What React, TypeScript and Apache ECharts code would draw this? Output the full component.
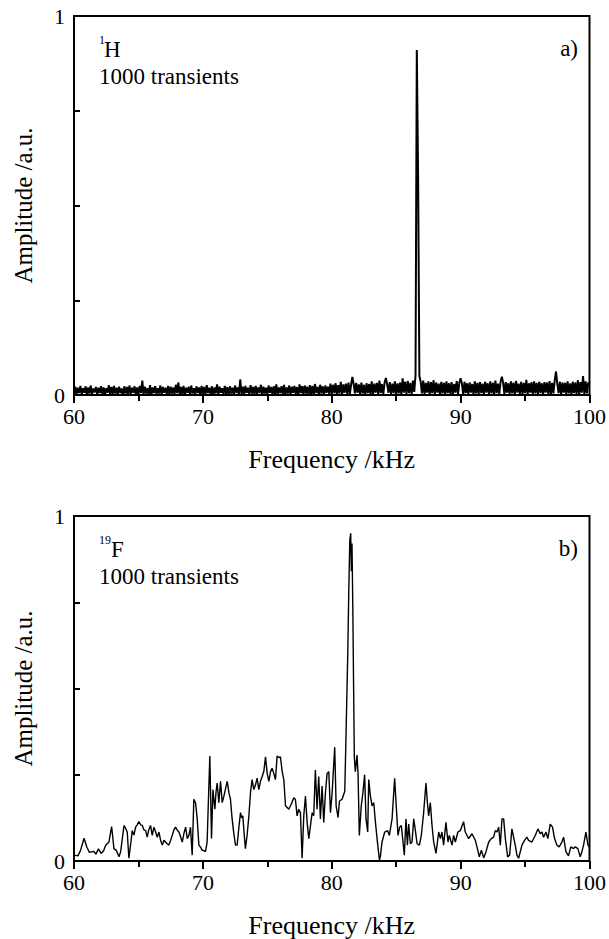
import React, { useEffect, useRef } from "react";
import * as echarts from "echarts";

// ---------- data ----------
const X_MIN = 60;
const X_MAX = 100;
const X_INTERVAL = 10;
const yLabelValues = [0, 1];

// 1H spectrum: amplitudes (in 1/1000 a.u.) sampled every 0.1 kHz from 60.0 to 100.0 kHz
const hStart = 60;
const hStep = 0.1;
const hAmpMilli = [
  3, 22, 1, 19, 5, 24, 2, 18, 6, 23, 0, 20, 4, 25, 2, 17, 7, 21, 1, 19,
  5, 23, 2, 20, 0, 18, 6, 26, 3, 21, 1, 24, 4, 19, 2, 22, 5, 17, 0, 23,
  4, 21, 1, 25, 3, 19, 6, 23, 0, 20, 2, 24, 5, 38, 1, 22, 4, 18, 2, 26,
  0, 20, 5, 23, 2, 18, 4, 25, 1, 21, 6, 19, 3, 24, 0, 22, 4, 20, 2, 27,
  5, 33, 1, 21, 3, 24, 0, 19, 6, 22, 2, 25, 4, 18, 1, 23, 5, 20, 0, 24,
  3, 21, 1, 26, 5, 19, 2, 23, 0, 20, 4, 28, 1, 22, 6, 18, 2, 24, 3, 21,
  0, 23, 4, 19, 2, 25, 5, 20, 1, 41, 3, 22, 0, 24, 6, 19, 2, 26, 4, 21,
  1, 24, 3, 20, 5, 27, 0, 22, 4, 19, 2, 25, 6, 21, 1, 23, 3, 28, 0, 20,
  5, 23, 2, 27, 0, 20, 4, 25, 1, 22, 6, 24, 3, 21, 0, 28, 5, 23, 2, 25,
  4, 22, 1, 26, 3, 24, 0, 29, 5, 21, 2, 27, 4, 23, 1, 25, 6, 22, 3, 30,
  2, 27, 5, 31, 1, 26, 4, 35, 0, 28, 6, 30, 3, 33, 1, 27, 48, 29, 4, 32,
  6, 28, 2, 33, 4, 27, 1, 31, 5, 29, 3, 36, 0, 30, 6, 32, 2, 38, 5, 29,
  3, 32, 45, 28, 6, 34, 2, 30, 5, 36, 1, 31, 4, 33, 0, 44, 6, 35, 3, 37,
  5, 32, 2, 38, 8, 52, 910, 580, 50, 35, 4, 38, 2, 32, 6, 36, 1, 34, 5, 39,
  2, 33, 6, 30, 0, 35, 4, 32, 1, 36, 5, 31, 3, 34, 0, 29, 6, 37, 2, 32,
  44, 30, 1, 35, 5, 31, 2, 33, 6, 29, 0, 36, 4, 32, 2, 34, 5, 30, 1, 35,
  6, 31, 2, 36, 4, 33, 0, 38, 5, 30, 3, 35, 48, 32, 1, 34, 6, 31, 2, 36,
  4, 33, 0, 37, 6, 30, 3, 35, 1, 32, 5, 40, 2, 31, 6, 34, 0, 36, 4, 32,
  2, 35, 5, 31, 1, 34, 6, 33, 3, 37, 0, 32, 4, 38, 62, 30, 5, 35, 1, 33,
  6, 32, 2, 36, 4, 31, 0, 35, 5, 33, 3, 39, 1, 34, 6, 50, 2, 36, 4, 33,
  28,
];

// 19F spectrum: frequency (kHz) and amplitude (a.u.)
const fFreq = [
  60.0, 60.3, 60.5, 60.78, 61.0, 61.2, 61.5, 61.7, 61.9, 62.1, 62.3, 62.45, 62.71, 62.92, 63.1, 63.3, 63.49, 63.62, 63.88, 64.0,
  64.13, 64.26, 64.4, 64.52, 64.65, 64.78, 64.9, 65.04, 65.17, 65.3, 65.43, 65.56, 65.68, 65.8, 65.94, 66.07, 66.2, 66.33, 66.46, 66.59,
  66.72, 66.85, 66.98, 67.1, 67.23, 67.36, 67.5, 67.62, 67.75, 67.88, 68.0, 68.14, 68.27, 68.4, 68.53, 68.66, 68.79, 68.92, 69.04, 69.17,
  69.3, 69.43, 69.56, 69.69, 69.82, 69.95, 70.1, 70.2, 70.33, 70.45, 70.54, 70.67, 70.78, 70.93, 71.02, 71.11, 71.24, 71.37, 71.5, 71.63,
  71.76, 71.89, 72.02, 72.14, 72.27, 72.4, 72.53, 72.66, 72.8, 72.92, 73.01, 73.1, 73.2, 73.3, 73.43, 73.57, 73.7, 73.82, 73.95, 74.08,
  74.21, 74.34, 74.47, 74.6, 74.73, 74.86, 74.99, 75.12, 75.25, 75.37, 75.5, 75.63, 75.76, 75.9, 76.02, 76.15, 76.28, 76.41, 76.54, 76.67,
  76.8, 76.92, 77.05, 77.18, 77.31, 77.44, 77.57, 77.7, 77.83, 77.96, 78.09, 78.22, 78.35, 78.48, 78.6, 78.73, 78.86, 78.99, 79.12, 79.25,
  79.38, 79.51, 79.64, 79.77, 79.9, 80.03, 80.23, 80.34, 80.49, 80.6, 80.8, 81.01, 81.11, 81.24, 81.32, 81.4, 81.47, 81.52, 81.57, 81.63,
  81.7, 81.75, 81.83, 81.96, 82.04, 82.14, 82.29, 82.42, 82.55, 82.66, 82.79, 82.87, 83.0, 83.13, 83.26, 83.39, 83.57, 83.7, 83.77, 83.9,
  84.11, 84.34, 84.47, 84.68, 84.88, 84.99, 85.14, 85.27, 85.4, 85.53, 85.63, 85.76, 85.87, 85.97, 86.1, 86.23, 86.36, 86.49, 86.62, 86.8,
  86.95, 87.13, 87.31, 87.42, 87.52, 87.65, 87.78, 87.91, 88.09, 88.3, 88.43, 88.55, 88.68, 88.86, 89.02, 89.12, 89.33, 89.46, 89.59, 89.79,
  89.97, 90.23, 90.36, 90.62, 90.88, 91.14, 91.27, 91.45, 91.61, 91.79, 91.97, 92.18, 92.38, 92.56, 92.69, 92.82, 92.95, 93.08, 93.21, 93.34,
  93.47, 93.65, 93.8, 93.98, 94.11, 94.24, 94.37, 94.5, 94.76, 94.96, 95.14, 95.27, 95.53, 95.79, 96.0, 96.18, 96.31, 96.44, 96.62, 96.77,
  96.95, 97.13, 97.29, 97.47, 97.65, 97.86, 97.99, 98.17, 98.37, 98.55, 98.76, 98.89, 99.1, 99.28, 99.41, 99.54, 99.72, 99.8, 99.88, 100.0,
];
const fAmp = [
  0.017, 0.015, 0.03, 0.066, 0.04, 0.025, 0.028, 0.02, 0.035, 0.022, 0.03, 0.045, 0.055, 0.1, 0.036, 0.03, 0.012, 0.027, 0.103, 0.095,
  0.084, 0.008, 0.05, 0.088, 0.075, 0.098, 0.105, 0.114, 0.105, 0.103, 0.09, 0.088, 0.069, 0.09, 0.103, 0.074, 0.098, 0.085, 0.069, 0.084,
  0.06, 0.046, 0.06, 0.055, 0.05, 0.046, 0.06, 0.074, 0.09, 0.098, 0.09, 0.084, 0.07, 0.055, 0.08, 0.098, 0.065, 0.075, 0.098, 0.017,
  0.179, 0.169, 0.122, 0.046, 0.04, 0.031, 0.03, 0.027, 0.055, 0.2, 0.304, 0.065, 0.207, 0.15, 0.2, 0.226, 0.169, 0.231, 0.169, 0.188,
  0.21, 0.231, 0.198, 0.179, 0.122, 0.08, 0.046, 0.046, 0.1, 0.14, 0.125, 0.131, 0.08, 0.036, 0.074, 0.131, 0.2, 0.236, 0.207, 0.22,
  0.24, 0.207, 0.231, 0.245, 0.26, 0.302, 0.254, 0.231, 0.259, 0.269, 0.254, 0.236, 0.304, 0.3, 0.302, 0.26, 0.236, 0.16, 0.155, 0.15,
  0.16, 0.17, 0.183, 0.179, 0.131, 0.15, 0.14, 0.008, 0.131, 0.188, 0.112, 0.065, 0.103, 0.14, 0.131, 0.264, 0.15, 0.245, 0.122, 0.217,
  0.112, 0.198, 0.254, 0.259, 0.14, 0.198, 0.33, 0.16, 0.126, 0.174, 0.179, 0.202, 0.368, 0.596, 0.78, 0.93, 0.95, 0.84, 0.92, 0.75,
  0.49, 0.302, 0.259, 0.307, 0.254, 0.074, 0.16, 0.198, 0.25, 0.122, 0.084, 0.236, 0.188, 0.16, 0.169, 0.112, 0.046, 0.003, 0.012, 0.055,
  0.084, 0.088, 0.074, 0.122, 0.24, 0.169, 0.074, 0.098, 0.103, 0.055, 0.017, 0.122, 0.046, 0.107, 0.05, 0.055, 0.122, 0.088, 0.05, 0.046,
  0.074, 0.14, 0.226, 0.169, 0.131, 0.169, 0.103, 0.055, 0.022, 0.084, 0.065, 0.084, 0.046, 0.112, 0.055, 0.074, 0.046, 0.074, 0.055, 0.084,
  0.088, 0.114, 0.084, 0.065, 0.079, 0.06, 0.041, 0.012, 0.031, 0.009, 0.027, 0.055, 0.065, 0.069, 0.088, 0.084, 0.098, 0.046, 0.122, 0.122,
  0.065, 0.012, 0.017, 0.093, 0.069, 0.046, 0.017, 0.008, 0.046, 0.06, 0.069, 0.06, 0.055, 0.074, 0.093, 0.079, 0.084, 0.069, 0.084, 0.065,
  0.107, 0.098, 0.065, 0.046, 0.041, 0.055, 0.069, 0.027, 0.015, 0.041, 0.036, 0.041, 0.036, 0.012, 0.027, 0.046, 0.084, 0.065, 0.046, 0.04,
];

// ---------- styling ----------
const FONT = "Liberation Serif";
const BLACK = "#000";

function makeXAxis(gridIndex: number) {
  return {
    type: "value",
    gridIndex,
    min: X_MIN,
    max: X_MAX,
    interval: X_INTERVAL,
    name: "Frequency /kHz",
    nameLocation: "middle",
    nameGap: 51,
    nameTextStyle: { fontFamily: FONT, fontSize: 26, color: BLACK },
    axisLine: { show: true, onZero: false, lineStyle: { color: BLACK, width: 2 } },
    axisTick: { show: true, inside: false, length: 8, lineStyle: { color: BLACK, width: 2 } },
    minorTick: { show: true, splitNumber: 2, length: 6, lineStyle: { color: BLACK, width: 2 } },
    axisLabel: { fontFamily: FONT, fontSize: 22, color: BLACK, margin: 10 },
    splitLine: { show: false },
  };
}

function makeYAxis(gridIndex: number) {
  return {
    type: "value",
    gridIndex,
    min: 0,
    max: 1,
    interval: 0.25,
    name: "Amplitude /a.u.",
    nameLocation: "middle",
    nameRotate: 90,
    nameGap: 38,
    nameTextStyle: { fontFamily: FONT, fontSize: 25, color: BLACK },
    axisLine: { show: true, lineStyle: { color: BLACK, width: 2 } },
    axisTick: { show: true, inside: true, length: 6, lineStyle: { color: BLACK, width: 2 } },
    axisLabel: {
      fontFamily: FONT,
      fontSize: 22,
      color: BLACK,
      margin: 9,
      formatter: (v: number) => (yLabelValues.includes(v) ? String(v) : ""),
    },
    splitLine: { show: false },
  };
}

function txt(x: number, y: number, text: string, size: number, align = "left") {
  return {
    type: "text",
    x,
    y,
    silent: true,
    style: {
      text,
      fontFamily: FONT,
      fontSize: size,
      fill: BLACK,
      align,
      verticalAlign: "middle",
    },
  };
}

export default function App() {
  const ref = useRef<HTMLDivElement>(null);

  useEffect(() => {
    if (!ref.current) return;
    const chart = echarts.init(ref.current, undefined, { renderer: "svg" });

    const hData = hAmpMilli.map((v, i) => [hStart + i * hStep, v / 1000]);
    const fData = fFreq.map((f, i) => [f, fAmp[i]]);

    chart.setOption({
      animation: false,
      backgroundColor: "#fff",
      textStyle: { fontFamily: FONT },
      grid: [
        { left: 74, top: 16, width: 516, height: 379, show: true, borderColor: BLACK, borderWidth: 2, backgroundColor: "transparent" },
        { left: 74, top: 516, width: 516, height: 350, show: true, borderColor: BLACK, borderWidth: 2, backgroundColor: "transparent" },
      ],
      xAxis: [makeXAxis(0), makeXAxis(1)],
      yAxis: [makeYAxis(0), makeYAxis(1)],
      series: [
        {
          type: "line",
          xAxisIndex: 0,
          yAxisIndex: 0,
          data: hData,
          showSymbol: false,
          lineStyle: { color: BLACK, width: 2 },
          clip: true,
        },
        {
          type: "line",
          xAxisIndex: 1,
          yAxisIndex: 1,
          data: fData,
          showSymbol: false,
          lineStyle: { color: BLACK, width: 1.4 },
          clip: true,
        },
      ],
      graphic: [
        txt(99, 40, "1", 12),
        txt(104, 49, "H", 23),
        txt(99, 76, "1000 transients", 23),
        txt(578, 48, "a)", 23, "right"),
        txt(99, 540, "19", 12),
        txt(111, 549, "F", 23),
        txt(99, 576, "1000 transients", 23),
        txt(578, 548, "b)", 23, "right"),
      ],
    });

    return () => chart.dispose();
  }, []);

  return (
    <div
      ref={ref}
      style={{ position: "fixed", left: 0, top: 0, width: 609, height: 939, background: "#fff" }}
    />
  );
}
